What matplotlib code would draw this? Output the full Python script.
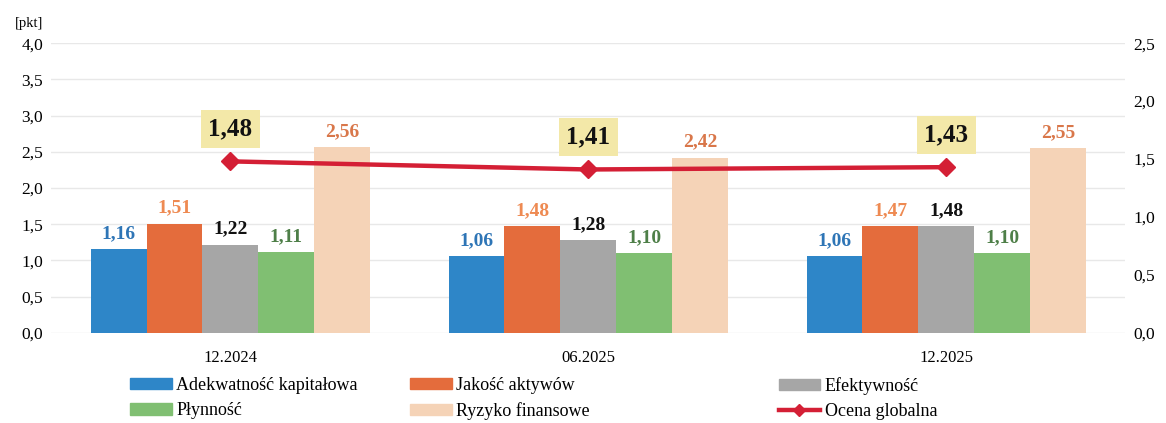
import matplotlib
matplotlib.use("Agg")
import matplotlib.pyplot as plt
import numpy as np
from matplotlib.patches import Patch
from matplotlib.lines import Line2D

plt.rcParams["font.family"] = ["Liberation Serif", "DejaVu Serif"]

# data
periods = ["12.2024", "06.2025", "12.2025"]
series_names = ["Adekwatność kapitałowa", "Jakość aktywów", "Efektywność",
                "Płynność", "Ryzyko finansowe"]
adekwatnosc = [1.16, 1.06, 1.06]
jakosc = [1.51, 1.48, 1.47]
efektywnosc = [1.22, 1.28, 1.48]
plynnosc = [1.11, 1.10, 1.10]
ryzyko = [2.56, 2.42, 2.55]
ocena_globalna = [1.48, 1.41, 1.43]

bar_colors = ["#2E86C8", "#E46C3C", "#A6A6A6", "#80BF72", "#F5D3B7"]
label_colors = ["#2E75B6", "#EE8A52", "#111111", "#4E7F48", "#D9774A"]
line_color = "#D41F35"


def fmt(v, nd=2):
    return f"{v:.{nd}f}".replace(".", ",")


fig = plt.figure(figsize=(11.66, 4.23), dpi=100)
ax = fig.add_axes([0.044, 0.213, 0.921, 0.685])
ax2 = ax.twinx()

x = np.arange(len(periods))
n = len(series_names)
w = 0.78 / n
all_series = [adekwatnosc, jakosc, efektywnosc, plynnosc, ryzyko]
for i, vals in enumerate(all_series):
    pos = x + (i - (n - 1) / 2) * w
    ax.bar(pos, vals, width=w, color=bar_colors[i], zorder=2)
    for p, v in zip(pos, vals):
        ax.annotate(fmt(v), (p, v), xytext=(0, 5), textcoords="offset points",
                    ha="center", va="bottom", fontsize=14, fontweight="bold",
                    color=label_colors[i], zorder=4)

ax.set_xlim(-0.5, len(periods) - 0.5)
ax.set_ylim(0, 4.0)
ax.set_yticks(np.arange(0, 4.01, 0.5))
ax.set_yticklabels([fmt(t, 1) for t in np.arange(0, 4.01, 0.5)], fontsize=12.5)
ax.set_xticks(x)
ax.set_xticklabels(periods, fontsize=12)
ax.tick_params(length=0, pad=6)
ax.tick_params(axis="x", pad=12)
ax.grid(axis="y", color="#E8E8E8", lw=1, zorder=0)
ax.set_axisbelow(True)
for s in ax.spines.values():
    s.set_visible(False)

ax2.plot(x, ocena_globalna, color=line_color, lw=3.2, marker="D", ms=9,
         zorder=5)
for xi, v in zip(x, ocena_globalna):
    ax2.annotate(fmt(v), (xi, v), xytext=(0, 15), textcoords="offset points",
                 ha="center", va="bottom", fontsize=18, fontweight="bold",
                 color="#111111",
                 bbox=dict(boxstyle="square,pad=0.3", fc="#F3E8A8", ec="none"))
ax2.set_ylim(0, 2.5)
ax2.set_yticks(np.arange(0, 2.51, 0.5))
ax2.set_yticklabels([fmt(t, 1) for t in np.arange(0, 2.51, 0.5)], fontsize=12.5)
ax2.tick_params(length=0, pad=6)
for s in ax2.spines.values():
    s.set_visible(False)

fig.text(0.013, 0.945, "[pkt]", fontsize=10.5, ha="left", va="center")

# legend: three columns placed by hand
handles = [Patch(color=c) for c in bar_colors]
handles.append(Line2D([], [], color=line_color, lw=3.2, marker="D", ms=6))
names = series_names + ["Ocena globalna"]
cols = [(0, 3), (1, 4), (2, 5)]
xs = [0.104, 0.344, 0.660]
for (a, b), xl in zip(cols, xs):
    fig.legend([handles[a], handles[b]], [names[a], names[b]],
               loc="upper left", bbox_to_anchor=(xl, 0.13), frameon=False,
               fontsize=13, handlelength=2.3, handleheight=0.6,
               handletextpad=0.25, labelspacing=0.45, borderpad=0)

fig.savefig("out.png", dpi=100)
